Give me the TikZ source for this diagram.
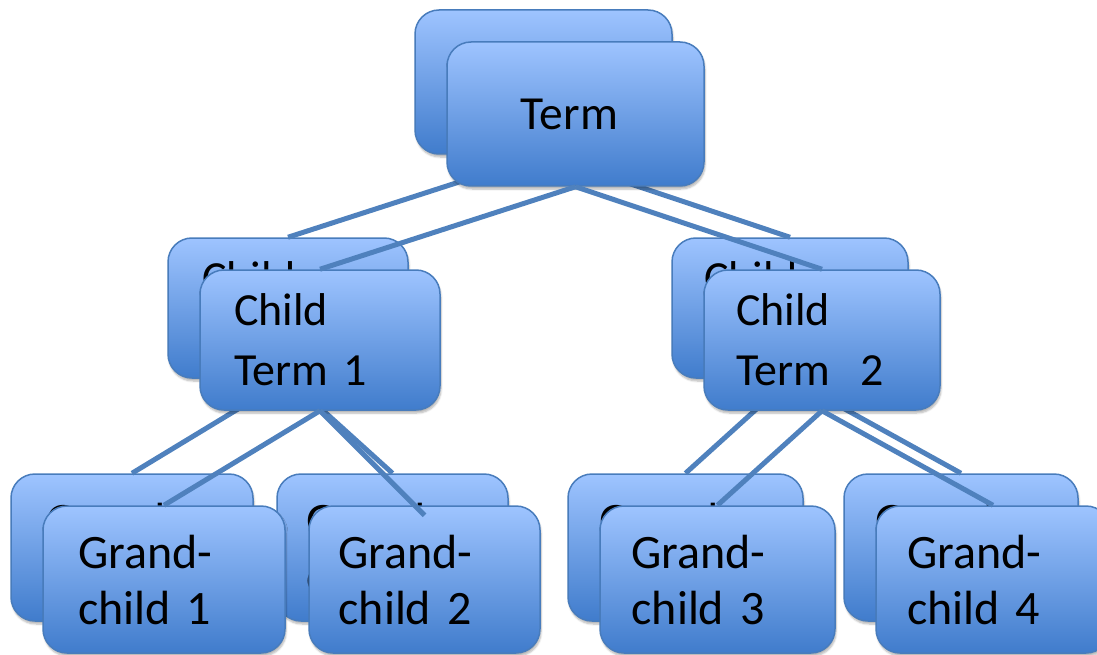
\documentclass[tikz,border=0pt]{standalone}
\usepackage{fontspec}
\setmainfont{Carlito}
\usetikzlibrary{shadows.blur}
\definecolor{boxtop}{RGB}{158,196,255}
\definecolor{boxbot}{RGB}{64,124,204}
\definecolor{boxedge}{RGB}{72,124,188}
\definecolor{linkblue}{RGB}{79,129,189}
\newcommand\gcfont{\fontsize{48}{56}\selectfont\spaceskip=0.12em\relax}
\begin{document}
\begin{tikzpicture}[x=1pt,y=-1pt,
  box/.style={rounded corners=24pt, draw=boxedge, line width=1.5pt,
    top color=boxtop, bottom color=boxbot, minimum height=#1, inner sep=0pt,
    font=\fontsize{47.5}{60}\selectfont,
    blur shadow={shadow xshift=1pt, shadow yshift=-3pt, shadow opacity=30, shadow blur steps=6}},
  lbox/.style={box=#1, text width=172pt, align=left, font=\fontsize{46}{60}\selectfont},
  gbox/.style={lbox=147, font=\gcfont},
  conn/.style={draw=linkblue, line width=5pt}]
\useasboundingbox (0,0) rectangle (1097,655);
\clip (0,0) rectangle (1097,655);
% back copy
\node[box=144, minimum width=257] (tB) at (543.5,82) {Term\hspace*{12pt}};
\node[lbox=140, minimum width=240] (c1B) at (288,308) {Child\\Term 1};
\node[lbox=140, minimum width=236] (c2B) at (790,308) {Child\\Term\ \ 2};
\node[gbox, minimum width=242] (g1B) at (132,547.5) {Grand-\\child 1};
\node[gbox, minimum width=231] (g2B) at (392.5,547.5) {Grand-\\child 2};
\node[gbox, minimum width=235] (g3B) at (685.5,547.5) {Grand-\\child 3};
\node[gbox, minimum width=234] (g4B) at (961,547.5) {Grand-\\child 4};
\draw[conn] (tB.south) -- (c1B.north);
\draw[conn] (tB.south) -- (c2B.north);
\draw[conn] (c1B.south) -- (g1B.north);
\draw[conn] (c1B.south) -- (g2B.north);
\draw[conn] (c2B.south) -- (g3B.north);
\draw[conn] (c2B.south) -- (g4B.north);
% front copy
\node[box=144, minimum width=257] (t) at (575.5,114) {Term\hspace*{12pt}};
\node[lbox=140, minimum width=240] (c1) at (320,340) {Child\\Term 1};
\node[lbox=140, minimum width=236] (c2) at (822,340) {Child\\Term\ \ 2};
\node[gbox, minimum width=242] (g1) at (164,579.5) {Grand-\\child 1};
\node[gbox, minimum width=231] (g2) at (424.5,579.5) {Grand-\\child 2};
\node[gbox, minimum width=235] (g3) at (717.5,579.5) {Grand-\\child 3};
\node[gbox, minimum width=234] (g4) at (993,579.5) {Grand-\\child 4};
\coordinate (g2end) at ([yshift=-10pt]g2.north);
\draw[conn] (t.south) -- (c1.north);
\draw[conn] (t.south) -- (c2.north);
\draw[conn] (c1.south) -- (g1.north);
\draw[conn] (c1.south) -- (g2end);
\draw[conn] (c2.south) -- (g3.north);
\draw[conn] (c2.south) -- (g4.north);
\end{tikzpicture}
\end{document}
